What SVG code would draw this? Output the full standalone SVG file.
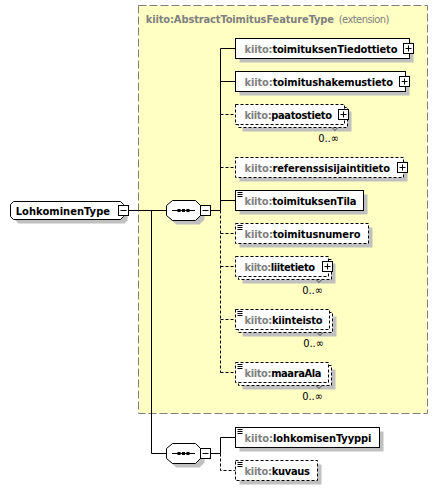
<svg xmlns="http://www.w3.org/2000/svg" width="442" height="490" viewBox="0 0 442 490">
<style>
  .t { font-family: "DejaVu Sans Condensed", "DejaVu Sans", sans-serif; font-stretch: condensed; font-size: 11px; font-weight: bold; fill: #000; }
  .p { fill: #808080; }
  .n { font-family: "DejaVu Sans Condensed", "DejaVu Sans", sans-serif; font-stretch: condensed; font-size: 11px; fill: #808080; }
  .occ { font-family: "DejaVu Sans Condensed", "DejaVu Sans", sans-serif; font-stretch: condensed; font-size: 11px; fill: #000; text-anchor: end; }
  .sh { fill: #c0c0c0; }
  .box { fill: #fff; stroke: #000; stroke-width: 1; }
  .dbox { fill: #fff; stroke: #000; stroke-width: 1; stroke-dasharray: 3,2; }
  .ln { fill: none; stroke: #000; stroke-width: 1; }
  .dln { fill: none; stroke: #000; stroke-width: 1; stroke-dasharray: 3,2; }
  .ic { fill: none; stroke: #000; stroke-width: 1; }
  .notch { fill: none; stroke: #404040; stroke-width: 1; }
</style>
<defs>
  <g id="plus"><rect class="box" x="0" y="0" width="10" height="10"/><path class="ic" d="M2,5H8M5,2V8"/></g>
  <g id="minus"><rect class="box" x="0" y="0" width="10" height="10"/><path class="ic" d="M2,5H8"/></g>
  <path id="simple" class="ic" d="M2,2H7M2,4H7M2,6H7"/>
</defs>

<g id="extension">
  <rect x="138.5" y="5.5" width="289" height="408" fill="#ffffc4" stroke="#808080" stroke-dasharray="8,3"/>
  <text x="145.7" y="22.5" class="t" textLength="188.3" style="fill:#808080">kiito:AbstractToimitusFeatureType</text>
  <text x="338.7" y="22.5" class="n" textLength="50.7">(extension)</text>
</g>

<g id="connectors">
  <path class="ln" d="M128.5,210.5H166.5"/>
  <path class="ln" d="M151.5,210.5V453.5H166.5"/>
  <path class="ln" d="M210.5,210.5H220.5"/>
  <path class="ln" d="M220.5,48.5V210.5"/>
  <path class="dln" d="M220.5,210.5V372.5"/>
  <path class="ln" d="M220.5,48.5H235.5M220.5,81.5H235.5M220.5,200.5H235.5"/>
  <path class="dln" d="M220.5,114.5H235.5M220.5,167.5H235.5M220.5,233.5H235.5M220.5,266.5H235.5M220.5,319.5H235.5M220.5,372.5H235.5"/>
  <path class="ln" d="M210.5,453.5H220.5V437.5H235.5"/>
  <path class="dln" d="M220.5,453.5V470.5H235.5"/>
</g>

<g id="LohkominenType">
  <polygon class="sh" points="18.5,205.5 124.5,205.5 127.5,208.5 127.5,220.5 124.5,223.5 18.5,223.5 15.5,220.5 15.5,208.5"/>
  <polygon class="box" points="13.5,201.5 120.5,201.5 123.5,204.5 123.5,216.5 120.5,219.5 13.5,219.5 10.5,216.5 10.5,204.5"/>
  <text x="15.7" y="214.5" class="t" textLength="94.3">LohkominenType</text>
  <use href="#minus" x="118.5" y="205.5"/>
</g>

<g id="sequence1">
  <polygon class="sh" points="176.5,204.5 199.5,204.5 204.5,209.5 204.5,219.5 199.5,224.5 176.5,224.5 170.5,219.5 170.5,209.5"/>
  <polygon class="box" points="172.5,200.5 195.5,200.5 200.5,205.5 200.5,215.5 195.5,220.5 172.5,220.5 166.5,215.5 166.5,205.5"/>
  <path class="ln" d="M172,210.5H195"/>
  <rect x="177.5" y="209" width="3" height="3"/><rect x="182" y="209" width="3" height="3"/><rect x="186.5" y="209" width="3" height="3"/>
  <use href="#minus" x="200.5" y="205.5"/>
</g>

<g id="sequence2">
  <polygon class="sh" points="176.5,447.5 199.5,447.5 204.5,452.5 204.5,462.5 199.5,467.5 176.5,467.5 170.5,462.5 170.5,452.5"/>
  <polygon class="box" points="172.5,443.5 195.5,443.5 200.5,448.5 200.5,458.5 195.5,463.5 172.5,463.5 166.5,458.5 166.5,448.5"/>
  <path class="ln" d="M172,453.5H195"/>
  <rect x="177.5" y="452" width="3" height="3"/><rect x="182" y="452" width="3" height="3"/><rect x="186.5" y="452" width="3" height="3"/>
  <use href="#minus" x="200.5" y="448.5"/>
</g>

<g id="toimituksenTiedottieto">
  <rect class="sh" x="239.5" y="42.5" width="174" height="20"/>
  <rect class="box" x="235.5" y="38.5" width="174" height="20"/>
  <text x="244.5" y="52.5" class="t" textLength="153"><tspan class="p">kiito:</tspan>toimituksenTiedottieto</text>
  <use href="#plus" x="403.5" y="43.5"/>
</g>

<g id="toimitushakemustieto">
  <rect class="sh" x="239.5" y="75.5" width="170" height="20"/>
  <rect class="box" x="235.5" y="71.5" width="170" height="20"/>
  <text x="244.5" y="85.5" class="t" textLength="148.5"><tspan class="p">kiito:</tspan>toimitushakemustieto</text>
  <use href="#plus" x="399.5" y="76.5"/>
</g>

<g id="paatostieto">
  <rect class="sh" x="242.5" y="111.5" width="109" height="20"/>
  <rect class="dbox" x="238.5" y="107.5" width="109" height="20"/>
  <rect class="dbox" x="235.5" y="104.5" width="109" height="20"/>
  <text x="244.5" y="118.5" class="t" textLength="87.5"><tspan class="p">kiito:</tspan>paatostieto</text>
  <use href="#plus" x="338.5" y="109.5"/>
  <path class="notch" d="M332,127.5L335,130.5L338,127.5"/>
  <text x="339" y="141.5" class="occ">0..∞</text>
</g>

<g id="referenssisijaintitieto">
  <rect class="sh" x="239.5" y="161.5" width="168" height="20"/>
  <rect class="dbox" x="235.5" y="157.5" width="168" height="20"/>
  <text x="244.5" y="171.5" class="t" textLength="145.5"><tspan class="p">kiito:</tspan>referenssisijaintitieto</text>
  <use href="#plus" x="397.5" y="162.5"/>
</g>

<g id="toimituksenTila">
  <rect class="sh" x="239.5" y="194.5" width="128" height="20"/>
  <rect class="box" x="235.5" y="190.5" width="128" height="20"/>
  <use href="#simple" x="235.5" y="190.5"/>
  <text x="244.5" y="204.5" class="t" textLength="112"><tspan class="p">kiito:</tspan>toimituksenTila</text>
</g>

<g id="toimitusnumero">
  <rect class="sh" x="239.5" y="227.5" width="133" height="20"/>
  <rect class="dbox" x="235.5" y="223.5" width="133" height="20"/>
  <use href="#simple" x="235.5" y="223.5"/>
  <text x="244.5" y="237.5" class="t" textLength="116"><tspan class="p">kiito:</tspan>toimitusnumero</text>
</g>

<g id="liitetieto">
  <rect class="sh" x="242.5" y="263.5" width="93" height="20"/>
  <rect class="dbox" x="238.5" y="259.5" width="93" height="20"/>
  <rect class="dbox" x="235.5" y="256.5" width="93" height="20"/>
  <text x="244.5" y="270.5" class="t" textLength="70.5"><tspan class="p">kiito:</tspan>liitetieto</text>
  <use href="#plus" x="322.5" y="261.5"/>
  <path class="notch" d="M316,279.5L319,282.5L322,279.5"/>
  <text x="323" y="293.5" class="occ">0..∞</text>
</g>

<g id="kiinteisto">
  <rect class="sh" x="242.5" y="316.5" width="94" height="20"/>
  <rect class="dbox" x="238.5" y="312.5" width="94" height="20"/>
  <rect class="dbox" x="235.5" y="309.5" width="94" height="20"/>
  <use href="#simple" x="235.5" y="309.5"/>
  <text x="244.5" y="323.5" class="t" textLength="78"><tspan class="p">kiito:</tspan>kiinteisto</text>
  <path class="notch" d="M317,332.5L320,335.5L323,332.5"/>
  <text x="324" y="346.5" class="occ">0..∞</text>
</g>

<g id="maaraAla">
  <rect class="sh" x="242.5" y="369.5" width="93" height="20"/>
  <rect class="dbox" x="238.5" y="365.5" width="93" height="20"/>
  <rect class="dbox" x="235.5" y="362.5" width="93" height="20"/>
  <use href="#simple" x="235.5" y="362.5"/>
  <text x="244.5" y="376.5" class="t" textLength="77"><tspan class="p">kiito:</tspan>maaraAla</text>
  <path class="notch" d="M316,385.5L319,388.5L322,385.5"/>
  <text x="323" y="399.5" class="occ">0..∞</text>
</g>

<g id="lohkomisenTyyppi">
  <rect class="sh" x="239.5" y="431.5" width="144" height="20"/>
  <rect class="box" x="235.5" y="427.5" width="144" height="20"/>
  <use href="#simple" x="235.5" y="427.5"/>
  <text x="244.5" y="441.5" class="t" textLength="127"><tspan class="p">kiito:</tspan>lohkomisenTyyppi</text>
</g>

<g id="kuvaus">
  <rect class="sh" x="239.5" y="464.5" width="82" height="20"/>
  <rect class="dbox" x="235.5" y="460.5" width="82" height="20"/>
  <use href="#simple" x="235.5" y="460.5"/>
  <text x="244.5" y="474.5" class="t" textLength="65.5"><tspan class="p">kiito:</tspan>kuvaus</text>
</g>
</svg>
